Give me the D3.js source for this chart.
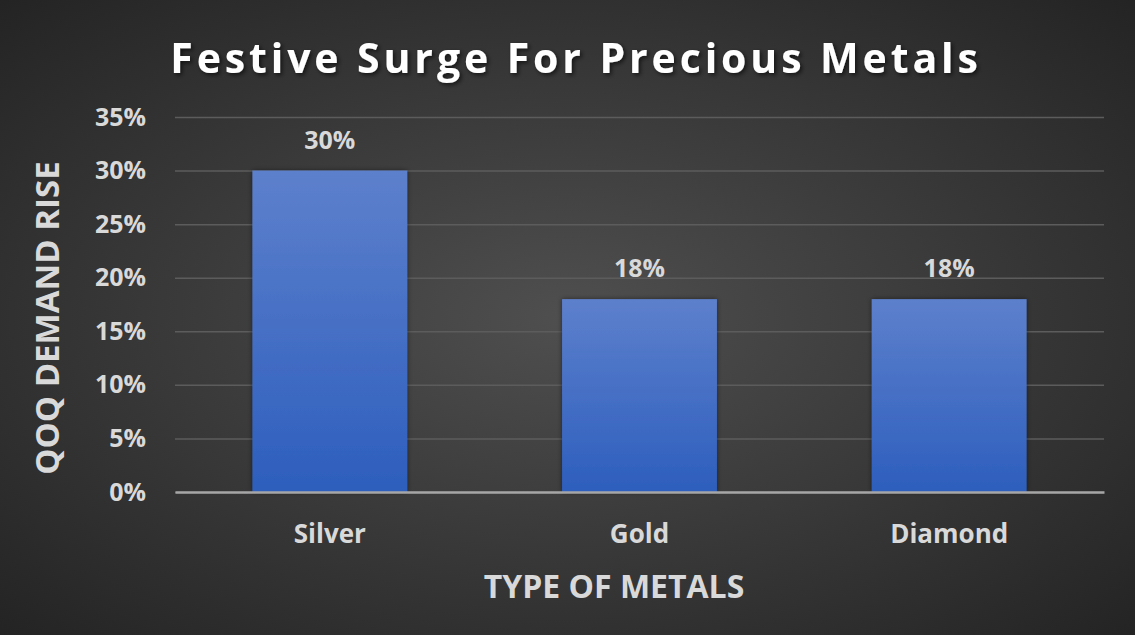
<!DOCTYPE html>
<html><head><meta charset="utf-8">
<script src="https://cdn.jsdelivr.net/npm/d3@7"></script>
<style>html,body{margin:0;padding:0;background:#333;}svg{display:block;}</style>
</head><body>
<script>
const categories = ["Silver", "Gold", "Diamond"];
const values = [0.30, 0.18, 0.18];
const yTicks = [0, 0.05, 0.10, 0.15, 0.20, 0.25, 0.30, 0.35];
const titleText = "Festive Surge For Precious Metals";
const xTitle = "TYPE OF METALS";
const yTitle = "QOQ DEMAND RISE";

const W = 1135, H = 635;
const m = {left: 175, right: 31, top: 117, bottom: 143};
const svg = d3.select("body").append("svg").attr("width", W).attr("height", H);
const defs = svg.append("defs");
const bg = defs.append("radialGradient").attr("id","bg").attr("cx","50%").attr("cy","50%").attr("r","75%");
bg.append("stop").attr("offset","0%").attr("stop-color","#4f4f4f");
bg.append("stop").attr("offset","100%").attr("stop-color","#212121");
const bar = defs.append("linearGradient").attr("id","bar").attr("x1",0).attr("y1",0).attr("x2",0).attr("y2",1);
bar.append("stop").attr("offset","0%").attr("stop-color","#5d80cc");
bar.append("stop").attr("offset","100%").attr("stop-color","#2d5ebd");
const sh = defs.append("filter").attr("id","sh").attr("x","-10%").attr("y","-10%").attr("width","130%").attr("height","130%");
sh.append("feDropShadow").attr("dx",2).attr("dy",2).attr("stdDeviation",2).attr("flood-color","#000").attr("flood-opacity",0.6);
const bsh = defs.append("filter").attr("id","bsh").attr("x","-10%").attr("y","-10%").attr("width","130%").attr("height","130%");
bsh.append("feDropShadow").attr("dx",0).attr("dy",0).attr("stdDeviation",2.5).attr("flood-color","#000").attr("flood-opacity",0.5);

svg.append("rect").attr("width",W).attr("height",H).attr("fill","url(#bg)");

const x = d3.scaleBand().domain(categories).range([m.left, W - m.right]).paddingInner(0.5).paddingOuter(0.25);
const y = d3.scaleLinear().domain([0, 0.35]).range([H - m.bottom, m.top]);
const font = "Open Sans, sans-serif";

// gridlines
const gy = svg.append("g").attr("transform",`translate(${m.left},0)`)
  .call(d3.axisLeft(y).tickValues(yTicks).tickSize(-(W - m.left - m.right)).tickFormat(""));
gy.select(".domain").remove();
gy.selectAll("line").attr("stroke","#5c5c5c").attr("stroke-width",1.5);

// y tick labels
const ya = svg.append("g").attr("transform",`translate(${m.left},0)`)
  .call(d3.axisLeft(y).tickValues(yTicks).tickSize(0).tickPadding(29).tickFormat(d3.format(".0%")));
ya.select(".domain").remove();
ya.selectAll("text").attr("fill","#d9d9d9").attr("font-family",font)
  .attr("font-weight","bold").attr("font-size",25);

// bars
svg.append("g").selectAll("rect").data(categories).join("rect")
  .attr("x", d => x(d)).attr("width", x.bandwidth())
  .attr("y", (d,i) => y(values[i])).attr("height", (d,i) => y(0) - y(values[i]))
  .attr("fill","url(#bar)").attr("filter","url(#bsh)");

// x axis
const xa = svg.append("g").attr("transform",`translate(0,${y(0)})`)
  .call(d3.axisBottom(x).tickSize(0).tickPadding(33));
xa.select(".domain").attr("stroke","#a6a6a6").attr("stroke-width",2.5);
xa.selectAll("text").attr("fill","#d9d9d9").attr("font-family",font)
  .attr("font-weight","bold").attr("font-size",26);

// data labels
svg.append("g").selectAll("text").data(categories).join("text")
  .attr("x", d => x(d) + x.bandwidth()/2).attr("y", (d,i) => y(values[i]) - 22)
  .attr("text-anchor","middle").attr("fill","#d9d9d9")
  .attr("font-family",font).attr("font-weight","bold").attr("font-size",25)
  .text((d,i) => d3.format(".0%")(values[i]));

// title
svg.append("text").attr("x", 576).attr("y", 73).attr("text-anchor","middle")
  .attr("fill","#ffffff").attr("font-family",font).attr("font-weight","bold")
  .attr("font-size",41).attr("letter-spacing",3.9).attr("filter","url(#sh)").text(titleText);

// axis titles
svg.append("text").attr("x", 614).attr("y", 598).attr("text-anchor","middle")
  .attr("fill","#d9d9d9").attr("font-family",font).attr("font-weight","bold")
  .attr("font-size",32).text(xTitle);
svg.append("text").attr("transform",`translate(59,318) rotate(-90)`).attr("text-anchor","middle")
  .attr("fill","#d9d9d9").attr("font-family",font).attr("font-weight","bold")
  .attr("font-size",33).text(yTitle);
</script>
</body></html>
